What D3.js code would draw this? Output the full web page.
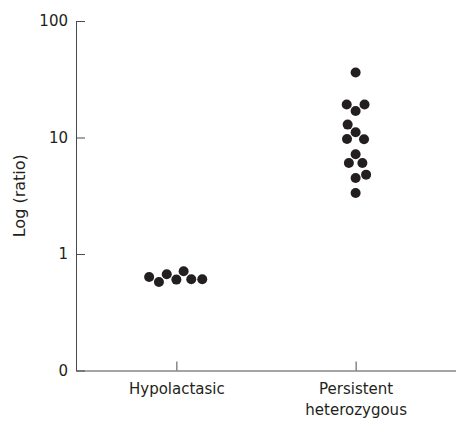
<!DOCTYPE html>
<html>
<head>
<meta charset="utf-8">
<script src="https://cdn.jsdelivr.net/npm/d3@7"></script>
<style>
  body { margin: 0; background: #fff; }
  text { font-family: "DejaVu Sans", sans-serif; fill: #231f20; }
</style>
</head>
<body>
<script>
const width = 456;
const height = 421;
const margin = {top: 21, right: 0, bottom: 50.5, left: 76};

// groups on the x axis
const groups = ["Hypolactasic", "Persistent\nheterozygous"];

// ratio values (log scale), one array per group
const hypolactasic = [0.603, 0.71, 0.67, 0.607, 0.575, 0.607, 0.635];
const persistent = [36.1, 11.1, 9.65, 9.7, 12.9, 16.9, 19.2, 19.2, 7.17, 6.04, 6.04, 4.49, 4.8, 3.34];

const yTicks = [0.1, 1, 10, 100];
const yTickLabels = ["0", "1", "10", "100"];

const r = 5;
const gap = 11; // centre distance kept between neighbouring dots

let svg = d3.select("body").append("svg")
    .attr("width", width)
    .attr("height", height);

let xScale = d3.scalePoint().domain(groups).range([margin.left, width - margin.right]).padding(0.56);
let yScale = d3.scaleLog().domain([0.1, 100]).range([height - margin.bottom, margin.top]);

// y axis
let yAxis = svg.append("g")
    .attr("transform", "translate(" + margin.left + ",0)")
    .call(d3.axisLeft(yScale).tickValues(yTicks)
      .tickFormat((d, i) => yTickLabels[i])
      .tickSizeInner(-9).tickSizeOuter(0).tickPadding(8));

// x axis
let xAxis = svg.append("g")
    .attr("transform", "translate(0," + (height - margin.bottom) + ")")
    .call(d3.axisBottom(xScale).tickSizeInner(-9).tickSizeOuter(0).tickPadding(13));

[yAxis, xAxis].forEach(function(g) {
  g.selectAll("path, line").attr("stroke", "#4a4a4a").attr("stroke-width", 1);
  g.selectAll("text").attr("font-family", "DejaVu Sans, sans-serif").attr("font-size", 15).attr("fill", "#231f20");
});

xAxis.selectAll(".tick text").each(function(d) {
  let t = d3.select(this).text(null);
  d.split("\n").forEach(function(line, i) {
    t.append("tspan").attr("x", 0).attr("dy", i === 0 ? "0.71em" : "1.4em").text(line);
  });
});

svg.append("text")
    .attr("transform", "translate(25," + ((margin.top + height - margin.bottom) / 2) + ") rotate(-90)")
    .attr("text-anchor", "middle")
    .attr("font-size", 16)
    .text("Log (ratio)");

// simple greedy beeswarm: each dot goes to the free offset nearest the group centre
const swarm = function(values, cx) {
  let placed = [];
  let flip = 1;
  values.forEach(function(v) {
    let y = yScale(v);
    let blocked = [];
    placed.forEach(function(p) {
      let dy = Math.abs(p.y - y);
      if (dy < gap) {
        let dx = Math.sqrt(gap * gap - dy * dy);
        blocked.push([p.dx - dx, p.dx + dx]);
      }
    });
    let free = o => blocked.every(b => o <= b[0] + 1e-6 || o >= b[1] - 1e-6);
    let candidates = [0];
    blocked.forEach(b => candidates.push(b[0], b[1]));
    candidates = candidates.filter(free);
    let best = d3.min(candidates, c => Math.abs(c));
    let choices = candidates.filter(c => Math.abs(Math.abs(c) - best) < 1e-6);
    let dx = choices[0];
    if (choices.length > 1 && best > 0) {
      dx = flip * best;
      flip = -flip;
    }
    placed.push({x: cx + dx, y: y, dx: dx});
  });
  return placed;
};

const dots = swarm(hypolactasic, xScale(groups[0])).concat(swarm(persistent, xScale(groups[1])));

svg.append("g")
  .selectAll("circle")
  .data(dots).enter()
  .append("circle")
    .attr("cx", d => d.x)
    .attr("cy", d => d.y)
    .attr("r", r)
    .attr("fill", "#231f20");
</script>
</body>
</html>
